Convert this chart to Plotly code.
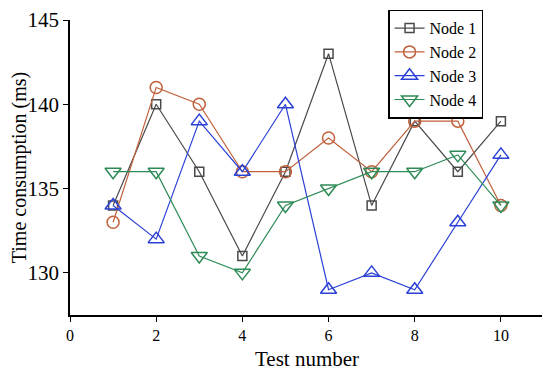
import plotly.graph_objects as go

tests = [1, 2, 3, 4, 5, 6, 7, 8, 9, 10]
node1 = [134, 140, 136, 131, 136, 143, 134, 139, 136, 139]
node2 = [133, 141, 140, 136, 136, 138, 136, 139, 139, 134]
node3 = [134, 132, 139, 136, 140, 129, 130, 129, 133, 137]
node4 = [136, 136, 131, 130, 134, 135, 136, 136, 137, 134]
names = ["Node 1", "Node 2", "Node 3", "Node 4"]
x_ticks = [0, 2, 4, 6, 8, 10]
y_ticks = [130, 135, 140, 145]

series = [
    (node1, "#4a4a4a", "square-open", 9),
    (node2, "#c0613c", "circle-open", 12),
    (node3, "#2b40d6", "triangle-up-open", 14),
    (node4, "#2e8b57", "triangle-down-open", 14),
]

fig = go.Figure()
for (vals, col, sym, sz), nm in zip(series, names):
    fig.add_trace(go.Scatter(
        x=tests, y=vals, name=nm, mode="lines+markers",
        line=dict(color=col, width=1.2),
        marker=dict(symbol=sym, size=sz, color=col, line=dict(width=1.5, color=col)),
    ))

font = "Liberation Serif"
fig.update_layout(
    width=542, height=368,
    margin=dict(l=62, r=6, t=12, b=61, autoexpand=False),
    paper_bgcolor="white", plot_bgcolor="white",
    font=dict(family=font, size=16, color="black"),
    legend=dict(x=0.671, y=1.035, xanchor="left", yanchor="top",
                bgcolor="white", bordercolor="black", borderwidth=1.5,
                font=dict(size=16, family=font, color="black"), tracegroupgap=0,
                itemwidth=30),
    showlegend=True,
)
fig.update_xaxes(
    range=[0, 11], tickvals=x_ticks, showgrid=False, zeroline=False,
    showline=True, linecolor="black", linewidth=1.5,
    ticks="outside", ticklen=5, tickwidth=1.2, tickcolor="black",
    tickfont=dict(size=16, family=font, color="black"), automargin=False,
    title=dict(text="Test number", font=dict(size=21, family=font, color="black"), standoff=8),
)
fig.update_yaxes(
    range=[127.5, 145], tickvals=y_ticks, showgrid=False, zeroline=False,
    showline=True, linecolor="black", linewidth=1.5,
    ticks="outside", ticklen=5, tickwidth=1.2, tickcolor="black",
    tickfont=dict(size=21, family=font, color="black"), automargin=False,
    title=dict(text="Time consumption (ms)", font=dict(size=20, family=font, color="black"), standoff=0),
)
fig.write_html("out.html")
